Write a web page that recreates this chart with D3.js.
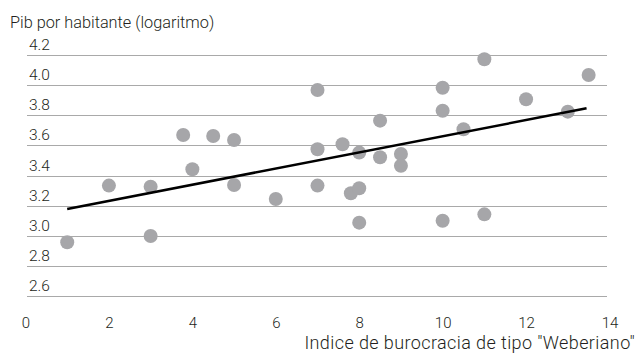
<!DOCTYPE html>
<html>
<head>
<meta charset="utf-8">
<script src="https://cdn.jsdelivr.net/npm/d3@7"></script>
<style>
  html, body { margin: 0; padding: 0; background: #fff; }
  svg text { font-family: Roboto, "Noto Sans", sans-serif; font-weight: 300; fill: #231f20; }
</style>
</head>
<body>
<svg id="chart" width="637" height="353"></svg>
<script>
// Data
const xValues = [1, 2, 3, 3, 3.78, 4, 4.5, 5, 5, 6, 7, 7, 7, 7.6, 7.8, 8, 8, 8, 8.5, 8.5, 9, 9, 10, 10, 10, 10.5, 11, 11, 12, 13, 13.5];
const yValues = [2.957, 3.333, 3.326, 2.998, 3.669, 3.441, 3.662, 3.636, 3.337, 3.244, 3.968, 3.574, 3.333, 3.607, 3.282, 3.315, 3.552, 3.087, 3.764, 3.521, 3.543, 3.465, 3.983, 3.830, 3.100, 3.707, 4.172, 3.142, 3.906, 3.824, 4.067];
const trendX = [1, 13.45];
const trendY = [3.178, 3.846];
const yTicks = [2.6, 2.8, 3.0, 3.2, 3.4, 3.6, 3.8, 4.0, 4.2];
const xTicks = [0, 2, 4, 6, 8, 10, 12, 14];
const yTitle = "Pib por habitante (logaritmo)";
const xTitle = "Indice de burocracia de tipo \"Weberiano\"";

const svg = d3.select("#chart");
const x = d3.scaleLinear().domain([0, 14]).range([25.5, 609.5]);
const y = d3.scaleLinear().domain([2.6, 4.2]).range([296, 55]);
const gridX0 = 27, gridX1 = 607;

// Gridlines
svg.append("g").selectAll("line").data(yTicks).join("line")
  .attr("x1", gridX0).attr("x2", gridX1)
  .attr("y1", d => Math.round(y(d)) + 0.5).attr("y2", d => Math.round(y(d)) + 0.5)
  .attr("stroke", "#a9a9a9").attr("stroke-width", 1.2);

// Y tick labels above gridlines
svg.append("g").selectAll("text").data(yTicks).join("text")
  .attr("x", 29).attr("y", d => y(d) - 5)
  .attr("font-size", 15.5)
  .text(d => d.toFixed(1));

// X axis via d3 axis (labels only)
const xAxis = d3.axisBottom(x).tickValues(xTicks).tickSize(0).tickPadding(0).tickFormat(d3.format("d"));
const gx = svg.append("g").attr("transform", "translate(0,317)").call(xAxis);
gx.select(".domain").remove();
gx.selectAll("text").attr("font-size", 15).attr("dy", "0.71em")
  .style("font-family", "Roboto, 'Noto Sans', sans-serif").style("font-weight", 300).attr("fill", "#231f20");

// Points
svg.append("g").selectAll("circle").data(xValues.map((d, i) => [d, yValues[i]])).join("circle")
  .attr("cx", d => x(d[0])).attr("cy", d => y(d[1])).attr("r", 7)
  .attr("fill", "#a6a6a9");

// Trend line
svg.append("path")
  .datum(trendX.map((d, i) => [d, trendY[i]]))
  .attr("d", d3.line().x(d => x(d[0])).y(d => y(d[1])))
  .attr("stroke", "#000").attr("stroke-width", 2.5).attr("fill", "none");

// Titles
svg.append("text").attr("x", 10).attr("y", 28).attr("font-size", 16.3).text(yTitle);
svg.append("text").attr("x", 635).attr("y", 349).attr("text-anchor", "end")
  .attr("font-size", 18).attr("letter-spacing", 0.4).text(xTitle);
</script>
</body>
</html>
